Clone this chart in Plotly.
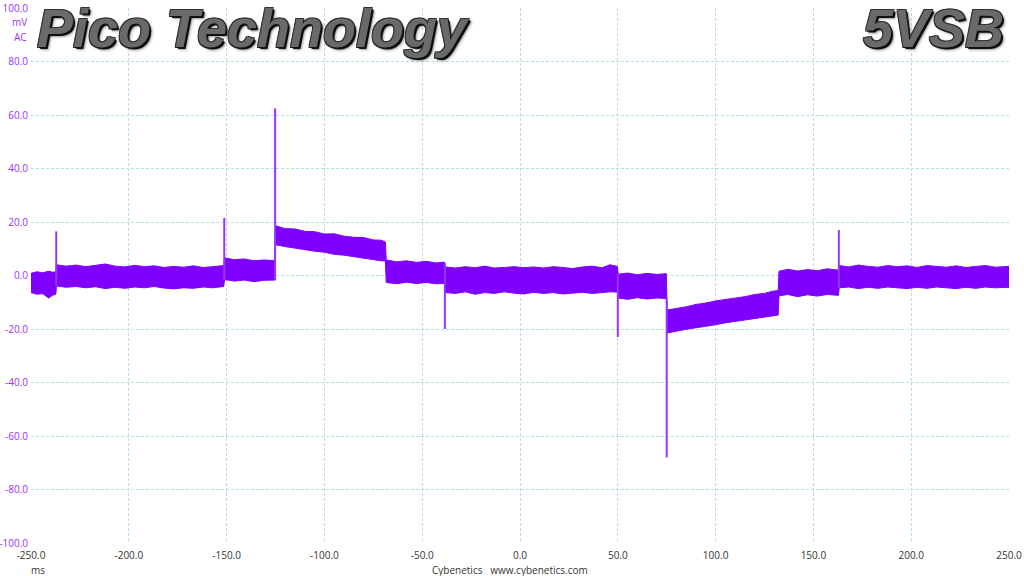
import plotly.graph_objects as go

# ---- data ----
# envelope of the ripple band: time (ms), upper and lower edge (mV)
env_t = (
    [-250, -247, -244, -241, -239, -237.3]
    + [-237, -232, -227, -222, -217, -212, -207, -202, -197, -192, -187, -182, -177, -172, -167, -162, -157, -151.5]
    + [-151, -146, -141, -136, -131, -125.4]
    + [-125, -120, -115, -110, -105, -100, -95, -90, -85, -80, -75, -71, -68.8]
    + [-68.4, -63, -58, -53, -48, -43, -38.6]
    + [-38.2, -33, -28, -23, -18, -13, -8, -3, 2, 7, 12, 17, 22, 27, 32, 37, 42, 46, 49.8]
    + [50.2, 55, 60, 65, 70, 74.8]
    + [75.2, 80, 85, 90, 95, 100, 105, 110, 115, 120, 125, 129, 132]
    + [132.4, 137, 142, 147, 152, 157, 162.8]
    + [163.2, 168, 173, 178, 183, 188, 193, 198, 203, 208, 213, 218, 223, 228, 233, 238, 243, 250]
)
env_hi = (
    [0.8, 1.4, 1.0, 1.6, 1.2, 1.4]
    + [4.0, 3.5, 3.9, 3.3, 3.8, 4.3, 3.5, 3.2, 3.8, 3.3, 3.6, 3.0, 3.4, 3.1, 3.6, 3.0, 3.3, 3.7]
    + [6.6, 5.9, 6.2, 5.5, 5.8, 5.6]
    + [18.6, 17.5, 17.4, 16.5, 16.4, 15.5, 15.6, 14.7, 14.3, 14.2, 13.3, 13.2, 12.5]
    + [5.8, 5.1, 5.5, 4.9, 5.3, 4.7, 5.0]
    + [3.2, 2.8, 3.3, 2.9, 3.5, 2.8, 3.0, 3.3, 2.9, 3.2, 2.8, 3.3, 3.0, 2.6, 3.2, 3.5, 2.9, 4.0, 3.4]
    + [0.5, 0.9, 0.3, 0.8, 0.4, 0.7]
    + [-12.9, -12.3, -11.7, -10.8, -10.3, -9.5, -9.0, -8.3, -7.9, -7.1, -6.7, -5.9, -5.6]
    + [1.6, 2.3, 1.7, 2.2, 1.8, 2.5, 2.0]
    + [3.7, 3.2, 3.9, 3.4, 3.1, 3.7, 3.3, 3.6, 3.0, 3.7, 3.4, 3.1, 3.6, 3.0, 3.4, 3.7, 3.1, 3.4]
)
env_lo = (
    [-6.4, -7.0, -6.8, -8.4, -7.4, -7.0]
    + [-3.9, -4.4, -4.1, -4.6, -4.2, -4.9, -4.4, -4.8, -4.3, -4.6, -4.1, -4.7, -5.0, -4.6, -4.8, -4.3, -4.6, -4.1]
    + [-1.5, -2.1, -1.7, -2.3, -1.8, -1.7]
    + [11.5, 10.8, 10.2, 9.6, 9.1, 8.7, 7.9, 7.6, 7.0, 6.4, 6.0, 5.5, 5.4]
    + [-2.6, -3.1, -2.5, -3.0, -2.6, -3.1, -3.0]
    + [-6.4, -6.7, -6.1, -7.0, -6.4, -6.7, -6.1, -6.6, -6.9, -6.3, -6.7, -6.4, -6.9, -6.6, -6.3, -6.7, -6.4, -6.1, -6.2]
    + [-8.4, -8.9, -8.3, -8.8, -8.4, -8.6]
    + [-21.5, -20.8, -20.1, -19.6, -18.9, -18.4, -17.7, -17.2, -16.5, -16.2, -15.5, -15.1, -14.8]
    + [-7.6, -7.1, -7.9, -7.2, -7.7, -7.1, -7.4]
    + [-4.6, -4.3, -4.9, -4.4, -4.8, -4.3, -4.6, -4.9, -4.4, -4.8, -4.3, -4.6, -4.9, -4.4, -4.8, -4.3, -4.6, -4.4]
)

# transient spikes: time (ms), lower and upper end (mV)
spike_t = [-237.1, -151.2, -125.2, -38.4, 50.0, 75.0, 163.0]
spike_lo = [-4.0, -1.6, -1.8, -20.0, -23.0, -68.0, -4.6]
spike_hi = [16.5, 21.5, 62.5, 4.6, 0.6, -8.6, 17.0]

# axis ticks
x_ticks = [-250, -200, -150, -100, -50, 0, 50, 100, 150, 200, 250]
x_labels = ["-250.0", "-200.0", "-150.0", "-100.0", "-50.0", "0.0",
            "50.0", "100.0", "150.0", "200.0", "250.0"]
y_ticks = [100, 80, 60, 40, 20, 0, -20, -40, -60, -80, -100]
y_labels = ["100.0", "80.0", "60.0", "40.0", "20.0", "0.0",
            "-20.0", "-40.0", "-60.0", "-80.0", "-100.0"]

PURPLE = "#7f00ff"

fig = go.Figure()

# ripple band as a filled polygon
poly_x = env_t + env_t[::-1]
poly_y = env_hi + env_lo[::-1]
fig.add_trace(go.Scatter(x=poly_x, y=poly_y, fill="toself", mode="lines",
                         line=dict(color=PURPLE, width=1), fillcolor=PURPLE,
                         hoverinfo="skip", showlegend=False))

# spikes
sx, sy = [], []
for t, lo, hi in zip(spike_t, spike_lo, spike_hi):
    sx += [t, t, None]
    sy += [lo, hi, None]
fig.add_trace(go.Scatter(x=sx, y=sy, mode="lines",
                         line=dict(color="#9438ff", width=2),
                         hoverinfo="skip", showlegend=False))

L, T, W, H = 31, 8, 978, 535


def px(xp):
    return (xp - L) / W


def py(yp):
    return (T + H - yp) / H


grid = "#b4dfe6"
fig.update_layout(
    width=1024, height=576,
    margin=dict(l=L, r=1024 - L - W, t=T, b=576 - T - H, autoexpand=False),
    paper_bgcolor="white", plot_bgcolor="white",
    font=dict(family="Open Sans, Noto Sans, sans-serif", size=10, color="#333333"),
    xaxis=dict(range=[-250, 250], tickvals=x_ticks, ticktext=x_labels,
               showgrid=True, gridcolor=grid, griddash="3px,2px", gridwidth=1,
               zeroline=False, showline=False, ticks="", automargin=False,
               ticklabelstandoff=5,
               tickfont=dict(size=10, color="#333333")),
    yaxis=dict(range=[-100, 100], tickvals=y_ticks, ticktext=y_labels,
               showgrid=True, gridcolor=grid, griddash="3px,2px", gridwidth=1,
               zeroline=False, showline=False, ticks="", ticklabelstandoff=2,
               automargin=False,
               tickfont=dict(size=10, color="#9b30ff")),
    showlegend=False,
)

title_font = dict(family="Liberation Sans, Arial, sans-serif", size=54,
                  color="#6a6a6a", weight="bold", style="italic",
                  shadow="1px 1px 0 #111, -1px -1px 0 #333, 1px -1px 0 #333, "
                         "-1px 1px 0 #222, 2px 2px 1px #000, 3px 3px 3px #aaa")
fig.add_annotation(text="Pico Technology", xref="paper", yref="paper",
                   x=px(35), y=py(-4), xanchor="left", yanchor="top",
                   showarrow=False, font=title_font)
fig.add_annotation(text="5VSB", xref="paper", yref="paper",
                   x=px(1006), y=py(-4), xanchor="right", yanchor="top",
                   showarrow=False, font=title_font)

for txt, yy in [("mV", 22), ("AC", 37)]:
    fig.add_annotation(text=txt, xref="paper", yref="paper",
                       x=px(29), y=py(yy), xanchor="right", yanchor="middle",
                       showarrow=False, font=dict(size=10, color="#9b30ff"))

fig.add_annotation(text="ms", xref="paper", yref="paper", x=px(38), y=py(570),
                   xanchor="center", yanchor="middle", showarrow=False,
                   font=dict(size=10, color="#333333"))
fig.add_annotation(text="Cybenetics&nbsp;&nbsp;&nbsp;www.cybenetics.com",
                   xref="paper", yref="paper", x=px(510), y=py(570),
                   xanchor="center", yanchor="middle", showarrow=False,
                   font=dict(size=10, color="#333333"))

fig.write_html("out.html", config=dict(displayModeBar=False),
               post_script="document.body.style.margin='0';"
                           "document.body.style.overflow='hidden';")
